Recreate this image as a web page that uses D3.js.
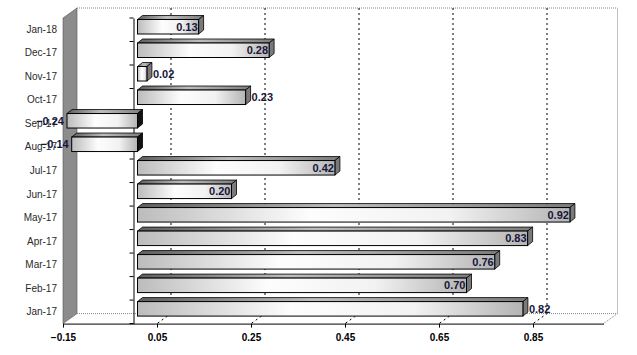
<!DOCTYPE html>
<html>
<head>
<meta charset="utf-8">
<script src="https://cdn.jsdelivr.net/npm/d3@7"></script>
<style>
body { margin: 0; background: #fff; }
svg { display: block; font-family: Arial, "Liberation Sans", sans-serif; }
</style>
</head>
<body>
<div id="chart"></div>
<script>
// monthly values, Jan-17 .. Jan-18 (bottom to top)
var months = ["Jan-17","Feb-17","Mar-17","Apr-17","May-17","Jun-17","Jul-17",
              "Aug-17","Sep-17","Oct-17","Nov-17","Dec-17","Jan-18"];
var values = [0.82, 0.70, 0.76, 0.83, 0.92, 0.20, 0.42, -0.14, -0.24, 0.23, 0.02, 0.28, 0.13];
var tickValues = [-0.15, 0.05, 0.25, 0.45, 0.65, 0.85];
// labels Excel put outside the bar end
var labelOutside = ["Jan-17", "Oct-17", "Nov-17"];

var width = 637, height = 355;
var wallDX = 14, wallDY = -10;   // depth of the 3d box
var barDX = 5, barDY = -4;       // depth of each bar
var barOff = 4;                  // bar front face shift into the box

var svg = d3.select("#chart").append("svg")
  .attr("width", width)
  .attr("height", height);

var x = d3.scaleLinear().domain([-0.15, 1.0]).range([63, 603.5]);
var y = d3.scaleBand().domain(months.slice().reverse()).range([18, 323.6]);

var data = months.map(function(m, i) { return {m: m, v: values[i]}; });

var defs = svg.append("defs");
function grad(id, stops) {
  var g = defs.append("linearGradient").attr("id", id);
  stops.forEach(function(s) {
    g.append("stop").attr("offset", s[0]).attr("stop-color", s[1]);
  });
}
grad("front", [[0, "#bcbcbc"], [0.4, "#fdfdfd"], [0.72, "#f2f2f2"], [1, "#b4b4b4"]]);
grad("top", [[0, "#5e5e5e"], [0.45, "#bdbdbd"], [1, "#7c7c7c"]]);

var x0 = x.range()[0], x1 = x.range()[1];
var yTop = y.range()[0], yBot = y.range()[1];

// back wall
svg.append("path")
  .attr("d", "M" + (x0 + wallDX) + "," + (yTop + wallDY) + "H" + (x1 + wallDX) +
             "V" + (yBot + wallDY) + "L" + x1 + "," + yBot)
  .attr("fill", "none")
  .attr("stroke", "#888")
  .attr("stroke-dasharray", "1,1");
svg.append("line")
  .attr("x1", x0 + wallDX).attr("x2", x1 + wallDX)
  .attr("y1", yBot + wallDY).attr("y2", yBot + wallDY)
  .attr("stroke", "#888")
  .attr("stroke-dasharray", "1,1");

// left wall
svg.append("path")
  .attr("d", "M" + x0 + "," + yTop + "L" + (x0 + wallDX) + "," + (yTop + wallDY) +
             "V" + (yBot + wallDY) + "L" + x0 + "," + yBot + "Z")
  .attr("fill", "#8c8c8c")
  .attr("stroke", "#555")
  .attr("stroke-width", 0.6);

// gridlines on back wall and floor
var grid = tickValues.slice(1);
svg.selectAll(".grid").data(grid).enter().append("path")
  .attr("class", "grid")
  .attr("d", function(d) {
    return "M" + (x(d) + wallDX) + "," + (yTop + wallDY) + "V" + (yBot + wallDY) +
           "L" + x(d) + "," + yBot;
  })
  .attr("fill", "none")
  .attr("stroke", "#000")
  .attr("stroke-dasharray", "2,3");

// category axis at zero
var catAxis = svg.append("g")
  .attr("transform", "translate(" + x(0) + ",0)")
  .call(d3.axisLeft(y).tickSize(0).tickPadding(x(0) - 57));
catAxis.select(".domain").attr("stroke", "#000");
catAxis.selectAll("text")
  .attr("font-size", "10px")
  .attr("font-family", "Arial, 'Liberation Sans', sans-serif")
  .attr("fill", "#2a2a2a");

var bounds = months.map(function(m) { return y(m); }).concat([yBot]);
svg.selectAll(".ctick").data(bounds).enter().append("line")
  .attr("x1", x(0) - 4).attr("x2", x(0))
  .attr("y1", function(d) { return d; }).attr("y2", function(d) { return d; })
  .attr("stroke", "#000");

// bars
var bars = svg.selectAll(".bar").data(data).enter().append("g").attr("class", "bar");

function bx0(d) { return x(Math.max(Math.min(d.v, 0), x.domain()[0])) + barOff; }
function bx1(d) { return x(Math.max(d.v, 0)) + barOff; }
function by(d) { return y(d.m) + 1.5; }
var bh = 14.5;

bars.append("path")
  .attr("d", function(d) {
    var a = bx0(d), b = bx1(d), t = by(d);
    return "M" + a + "," + t + "L" + (a + barDX) + "," + (t + barDY) +
           "H" + (b + barDX) + "L" + b + "," + t + "Z";
  })
  .attr("fill", "url(#top)")
  .attr("stroke", "#000")
  .attr("stroke-width", 0.8);

bars.append("path")
  .attr("d", function(d) {
    var b = bx1(d), t = by(d);
    return "M" + b + "," + t + "L" + (b + barDX) + "," + (t + barDY) +
           "V" + (t + barDY + bh) + "L" + b + "," + (t + bh) + "Z";
  })
  .attr("fill", function(d) { return d.v < 0 ? "#111" : "#7a7a7a"; })
  .attr("stroke", "#000")
  .attr("stroke-width", 0.8);

bars.append("rect")
  .attr("x", bx0)
  .attr("y", by)
  .attr("width", function(d) { return bx1(d) - bx0(d); })
  .attr("height", bh)
  .attr("fill", "url(#front)")
  .attr("stroke", "#000")
  .attr("stroke-width", 1);

// data labels
bars.append("text")
  .attr("font-size", "11px")
  .attr("font-weight", "bold")
  .attr("fill", "#15153a")
  .attr("y", function(d) { return by(d) + bh / 2 + 4; })
  .attr("x", function(d) {
    if (d.v < 0) return bx0(d) - 3;
    if (labelOutside.indexOf(d.m) >= 0) return bx1(d) + barDX + 1;
    return bx1(d) - 1;
  })
  .attr("text-anchor", function(d) {
    return (d.v >= 0 && labelOutside.indexOf(d.m) >= 0) ? "start" : "end";
  })
  .text(function(d) { return d3.format(".2f")(d.v); });

// value axis
var valAxis = svg.append("g")
  .attr("transform", "translate(0," + yBot + ")")
  .call(d3.axisBottom(x).tickValues(tickValues).tickFormat(d3.format(".2f"))
        .tickSize(4).tickSizeOuter(0).tickPadding(6));
valAxis.select(".domain").attr("stroke", "#000");
valAxis.selectAll("line").attr("stroke", "#000");
valAxis.selectAll("text")
  .attr("font-size", "10px")
  .attr("font-weight", "bold")
  .attr("font-family", "Arial, 'Liberation Sans', sans-serif")
  .attr("fill", "#000");
</script>
</body>
</html>
